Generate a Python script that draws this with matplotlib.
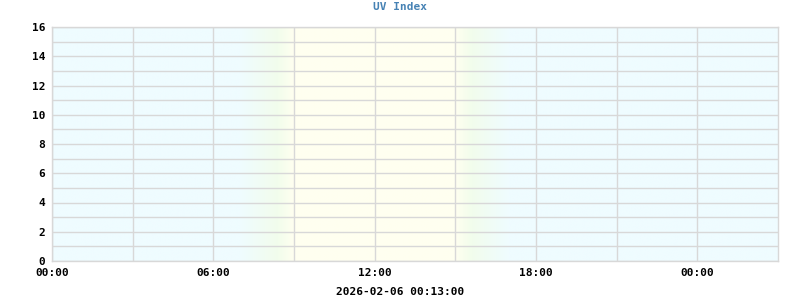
import numpy as np
import matplotlib.pyplot as plt
from matplotlib.colors import LinearSegmentedColormap

# UV readings for the period (none recorded)
hours = []
uv = []

x_ticks = [0, 6, 12, 18, 24]
x_labels = ["00:00", "06:00", "12:00", "18:00", "00:00"]
y_ticks = [0, 2, 4, 6, 8, 10, 12, 14, 16]

# twilight band (hours)
dawn = (7.0, 9.0)
dusk = (15.0, 17.0)

night_col = "#effcff"
twilight_col = "#f2fdec"
day_col = "#fffff0"

fig = plt.figure(figsize=(8, 3), dpi=100)
ax = fig.add_axes([0.065, 0.13, 0.9075, 0.78])

# day/night background shading
t = np.linspace(0, 27, 1000)
level = np.zeros_like(t)
level = np.where((t >= dawn[0]) & (t < dawn[1]), (t - dawn[0]) / (dawn[1] - dawn[0]), level)
level = np.where((t >= dawn[1]) & (t < dusk[0]), 1.0, level)
level = np.where((t >= dusk[0]) & (t < dusk[1]), 1 - (t - dusk[0]) / (dusk[1] - dusk[0]), level)
cmap = LinearSegmentedColormap.from_list("dn", [(0, night_col), (0.7, twilight_col), (1, day_col)])
ax.imshow(level[np.newaxis, :], cmap=cmap, vmin=0, vmax=1, aspect="auto",
          extent=[0, 27, 0, 16], zorder=0, interpolation="bilinear")

ax.plot(hours, uv, color="#0000ff", lw=1)

ax.set_xlim(0, 27)
ax.set_ylim(0, 16)
ax.set_xticks(x_ticks)
ax.set_xticklabels(x_labels)
ax.set_xticks(np.arange(0, 27, 3), minor=True)
ax.set_yticks(y_ticks)
ax.set_yticks(np.arange(0, 17, 1), minor=True)

grid_col = "#d8d8d8"
ax.grid(which="both", color=grid_col, lw=1)
ax.set_axisbelow(False)
for s in ax.spines.values():
    s.set_color(grid_col)
    s.set_linewidth(1)
ax.tick_params(which="both", length=0, pad=5, labelsize=8)
for lbl in ax.get_xticklabels() + ax.get_yticklabels():
    lbl.set_family("DejaVu Sans Mono")
    lbl.set_fontweight("bold")

fig.text(0.5, 0.978, "UV Index", ha="center", va="center", color="#4682b4",
         family="DejaVu Sans Mono", fontweight="bold", fontsize=8)
fig.text(0.5, 0.028, "2026-02-06 00:13:00", ha="center", va="center", color="black",
         family="DejaVu Sans Mono", fontweight="bold", fontsize=8)

fig.savefig("out.png", dpi=100)
